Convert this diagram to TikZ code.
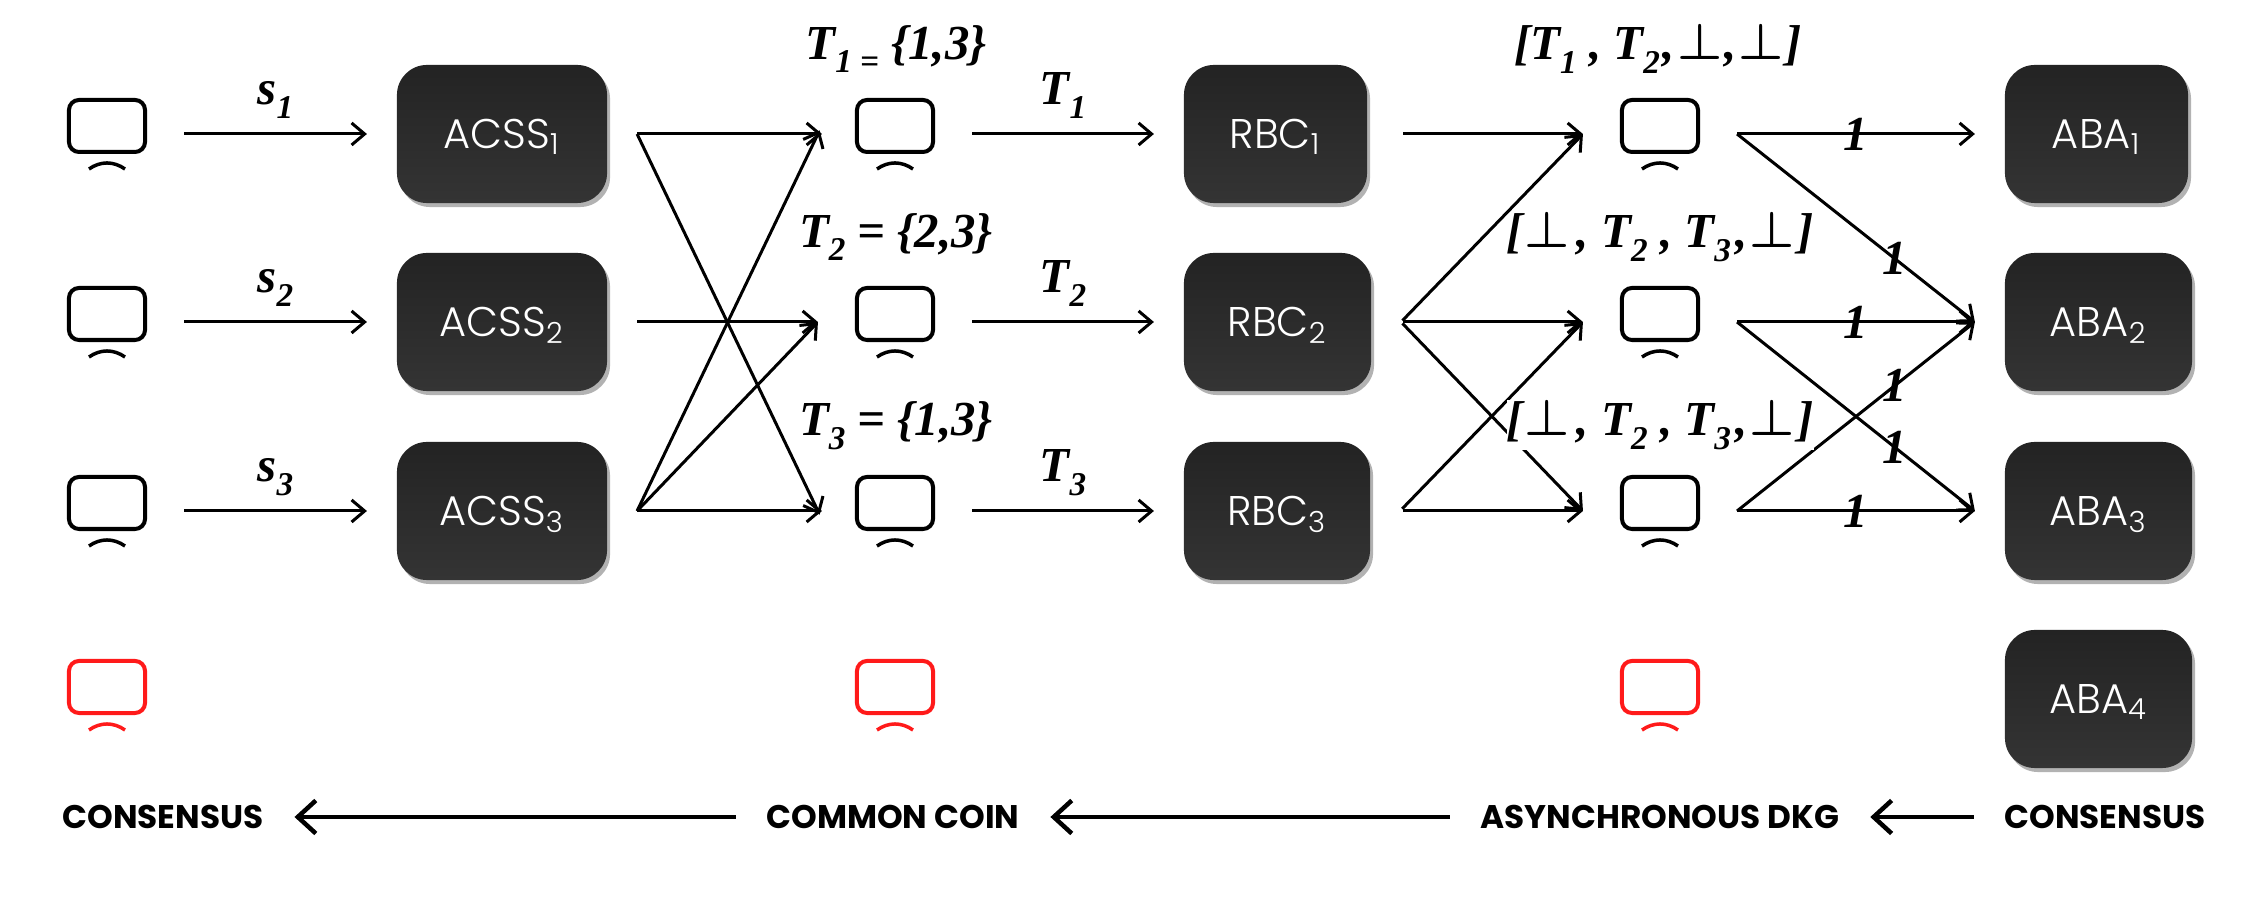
\documentclass[tikz,border=0pt]{standalone}
\usepackage{fontspec}
\usepackage{amsmath}
\usepackage{amssymb}
\setmainfont{Liberation Serif}
\newfontfamily\boxfont{Poppins Light}
\newfontfamily\capfont{Poppins}
\usetikzlibrary{arrows.meta,shadows}

\newcommand{\low}[1]{\raisebox{-.28em}{\scalebox{.68}{#1}}}
\newcommand{\nil}{\kern.04em$\boldsymbol{\bot}$\kern.04em}

\tikzset{
  monitor/.style={rectangle,inner sep=0pt,minimum width=.8cm,minimum height=.72cm,
    outer xsep=.37cm,outer ysep=0pt,
    path picture={
      \draw[#1,line width=.04cm,rounded corners=.1cm]
        ([shift={(.02cm,-.02cm)}]path picture bounding box.north west) rectangle
        ([shift={(-.02cm,.18cm)}]path picture bounding box.south east);
      \draw[#1,line width=.035cm]
        ([shift={(-.18cm,.01cm)}]path picture bounding box.south) to[out=35,in=145]
        ([shift={(.18cm,.01cm)}]path picture bounding box.south);
    }},
  monitor/.default=black,
  darkbox/.style={rectangle,rounded corners=.3cm,top color=box1,bottom color=box2,
    minimum height=1.38cm,inner sep=0pt,outer sep=.3cm,text=white,text depth=0pt,
    font=\boxfont\fontsize{11.8}{13}\selectfont,
    drop shadow={shadow xshift=.03cm,shadow yshift=-.04cm,fill=black,opacity=.3}},
  bigtext/.style={inner sep=0pt,font=\bfseries\itshape\fontsize{13.9}{16}\selectfont},
  captext/.style={inner sep=0pt,outer xsep=.31cm,font=\capfont\bfseries\fontsize{9.3}{11}\selectfont}
}
\definecolor{box1}{HTML}{232323}
\definecolor{box2}{HTML}{343434}
\definecolor{alarm}{HTML}{FF1A1A}

\begin{document}
\begin{tikzpicture}[x=.01cm,y=-.01cm]

      \useasboundingbox (0,0) rectangle (2250,898);

      \begin{scope}[every node/.style={monitor}]
        \node (p1) at (107,134) {};
        \node (p2) at (107,322) {};
        \node (p3) at (107,511) {};
        \node (q1) at (895,134) {};
        \node (q2) at (895,322) {};
        \node (q3) at (895,511) {};
        \node (r1) at (1660,134) {};
        \node (r2) at (1660,322) {};
        \node (r3) at (1660,511) {};
      \end{scope}

      \begin{scope}[every node/.style={monitor=alarm}]
        \node (p4) at (107,695) {};
        \node (q4) at (895,695) {};
        \node (r4) at (1660,695) {};
      \end{scope}

      \begin{scope}[every node/.style={darkbox,minimum width=2.1cm}]
        \node (acss1) at (502,134) {ACSS\textsubscript{1}};
        \node (acss2) at (502,322) {ACSS\textsubscript{2}};
        \node (acss3) at (502,511) {ACSS\textsubscript{3}};
      \end{scope}

      \begin{scope}[every node/.style={darkbox}]
        \node[minimum width=1.83cm] (rbc1) at (1275.5,134) {RBC\textsubscript{1}};
        \node[minimum width=1.87cm] (rbc2) at (1277.5,322) {RBC\textsubscript{2}};
        \node[minimum width=1.86cm] (rbc3) at (1277,511) {RBC\textsubscript{3}};
        \node[minimum width=1.83cm] (aba1) at (2096.5,134) {ABA\textsubscript{1}};
        \node[minimum width=1.87cm] (aba2) at (2098.5,322) {ABA\textsubscript{2}};
        \node[minimum width=1.87cm] (aba3) at (2098.5,511) {ABA\textsubscript{3}};
        \node[minimum width=1.87cm] (aba4) at (2098.5,699) {ABA\textsubscript{4}};
      \end{scope}

      \begin{scope}[every edge/.style={draw,line width=.03cm,-{Straight Barb[length=.13cm,width=.22cm]}}]

        \begin{scope}[every node/.style={bigtext,above=.14cm}]
          \path (p1.east)  edge node (s1) {s\low{1}} (acss1.west);
          \path (p2.east)  edge node (s2) {s\low{2}} (acss2.west);
          \path (p3.east)  edge node (s3) {s\low{3}} (acss3.west);
          \path (q1.east)  edge node (t1) {T\low{1}} (rbc1.west);
          \path (q2.east)  edge node (t2) {T\low{2}} (rbc2.west);
          \path (q3.east)  edge node (t3) {T\low{3}} (rbc3.west);
        \end{scope}

        \begin{scope}[shorten >=-.04cm]
          \path (acss1.east)  edge (q1.west);
          \path (acss1.east)  edge (q3.west);
          \path (acss3.east)  edge (q1.west);
          \path (acss3.east)  edge (q3.west);
        \end{scope}
        \path (acss2.east)  edge (q2.west);
        \path (acss3.east)  edge (q2.west);

        \path[shorten <=.06cm] (rbc1.east)  edge (r1.west);
        \begin{scope}[shorten <=.02cm]
          \path (rbc2.east)  edge (r1.west);
          \path (rbc2.east)  edge (r2.west);
          \path (rbc2.east)  edge (r3.west);
        \end{scope}
        \begin{scope}[shorten <=.03cm]
          \path (rbc3.east)  edge (r2.west);
          \path (rbc3.east)  edge (r3.west);
        \end{scope}

        \begin{scope}[every node/.style={bigtext}]
          \path (r1.east)  edge node (v11) {1} (aba1.west);
          \path (r1.east)  edge node[pos=.664] (v12) {1} (aba2.west);
          \path (r2.east)  edge node (v22) {1} (aba2.west);
          \path (r2.east)  edge node[pos=.664] (v23) {1} (aba3.west);
          \path (r3.east)  edge node[pos=.664] (v32) {1} (aba2.west);
          \path (r3.east)  edge node (v33) {1} (aba3.west);
        \end{scope}

      \end{scope}

      \begin{scope}[every node/.style={bigtext}]
        \node (set1) at (896,49) {T\low{1 =} \{1,3\}};
        \node (set2) at (896,237) {T\low{2} = \{2,3\}};
        \node (set3) at (896,426) {T\low{3} = \{1,3\}};
        \node (vec1) at (1658,49) {[T\low{1} , T\low{2}\kern.06em,\nil,\nil]};
        \node (vec2) at (1660,237) {[\nil\kern.1em, T\low{2} , T\low{3}\kern.1em,\nil]};
        \node[fill=white] (vec3) at (1660,425) {[\nil\kern.1em, T\low{2} , T\low{3}\kern.1em,\nil]};
      \end{scope}

      \begin{scope}[every node/.style={captext}]
        \node (step1) at (163,817) {CONSENSUS};
        \node (step2) at (893,817) {COMMON COIN};
        \node (step3) at (1660,817) {ASYNCHRONOUS DKG};
        \node (step4) at (2105,817) {CONSENSUS};
      \end{scope}

      \begin{scope}[every edge/.style={draw,line width=.045cm,-{Straight Barb[length=.18cm,width=.33cm]}}]
        \path (step4.west)  edge (step3.east);
        \path (step3.west)  edge (step2.east);
        \path (step2.west)  edge (step1.east);
      \end{scope}

    \end{tikzpicture}
\end{document}
